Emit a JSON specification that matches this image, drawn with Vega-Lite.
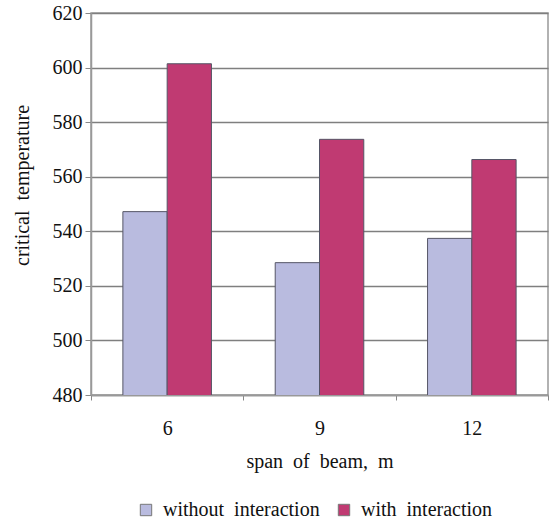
{
  "$schema": "https://vega.github.io/schema/vega-lite/v6.json",
  "autosize": "none",
  "width": 457,
  "height": 382,
  "padding": {"left": 91, "top": 13, "right": 3, "bottom": 127},
  "background": "white",
  "config": {
    "font": "'Liberation Serif', 'Times New Roman', serif",
    "view": {"stroke": "#999999", "strokeWidth": 1.5}
  },
  "data": {
    "values": [
      {"span": "6", "series": "without\u00a0 interaction", "temp": 547.2},
      {"span": "6", "series": "with\u00a0 interaction", "temp": 601.4},
      {"span": "9", "series": "without\u00a0 interaction", "temp": 528.5},
      {"span": "9", "series": "with\u00a0 interaction", "temp": 573.7},
      {"span": "12", "series": "without\u00a0 interaction", "temp": 537.4},
      {"span": "12", "series": "with\u00a0 interaction", "temp": 566.3}
    ]
  },
  "mark": {"type": "bar", "stroke": "#555566", "strokeWidth": 1, "clip": true},
  "encoding": {
    "x": {
      "field": "span", "type": "nominal", "sort": ["6", "9", "12"],
      "scale": {"paddingInner": 0, "paddingOuter": 0},
      "axis": {
        "title": "span\u00a0 of\u00a0 beam,\u00a0 m", "labelAngle": 0, "grid": false,
        "tickBand": "extent", "tickColor": "#888888", "tickSize": 5,
        "domainColor": "#999999", "domainWidth": 1.5,
        "labelFont": "'Liberation Serif', 'Times New Roman', serif", "labelFontSize": 20, "labelColor": "#111111",
        "labelPadding": 18,
        "titleFont": "'Liberation Serif', 'Times New Roman', serif", "titleFontSize": 20, "titleFontWeight": "normal",
        "titleColor": "#111111", "titlePadding": 13
      }
    },
    "xOffset": {
      "field": "series", "type": "nominal",
      "sort": ["without\u00a0 interaction", "with\u00a0 interaction"],
      "scale": {"paddingOuter": 0.72, "paddingInner": 0}
    },
    "y": {
      "field": "temp", "type": "quantitative",
      "scale": {"domain": [480, 620], "nice": false, "zero": false},
      "axis": {
        "title": "critical\u00a0 temperature", "values": [480, 500, 520, 540, 560, 580, 600, 620],
        "gridColor": "#7f7f7f", "gridWidth": 1.5,
        "tickColor": "#888888", "tickSize": 6, "labelPadding": 3,
        "domainColor": "#999999", "domainWidth": 1.5,
        "labelFont": "'Liberation Serif', 'Times New Roman', serif", "labelFontSize": 20, "labelColor": "#111111",
        "titleFont": "'Liberation Serif', 'Times New Roman', serif", "titleFontSize": 20, "titleFontWeight": "normal",
        "titleColor": "#111111", "titlePadding": 20, "titleY": 172
      }
    },
    "color": {
      "field": "series", "type": "nominal",
      "sort": ["without\u00a0 interaction", "with\u00a0 interaction"],
      "scale": {"domain": ["without\u00a0 interaction", "with\u00a0 interaction"], "range": ["#b9bbdf", "#c03a72"]},
      "legend": {
        "title": null, "orient": "none", "direction": "horizontal",
        "legendX": 45, "legendY": 487,
        "symbolType": "square", "symbolSize": 130, "symbolStrokeColor": "#777777", "symbolStrokeWidth": 1,
        "labelFont": "'Liberation Serif', 'Times New Roman', serif", "labelFontSize": 20, "labelColor": "#111111",
        "columnPadding": 14, "labelOffset": 7
      }
    }
  }
}
